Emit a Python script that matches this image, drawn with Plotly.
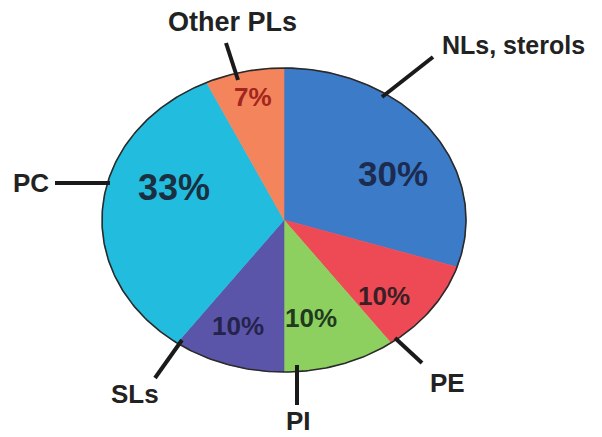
import numpy as np
import plotly.graph_objects as go

# ---- data ----
categories = ["NLs, sterols", "PE", "PI", "SLs", "PC", "Other PLs"]
values = [30, 10, 10, 10, 33, 7]
pct_labels = ["30%", "10%", "10%", "10%", "33%", "7%"]

# ---- styling / layout ----
W, H = 602, 437
CX, CY, RX, RY = 284, 220, 182, 152
slice_colors = ["#3c7bc8", "#ee4a56", "#8dd05f", "#5b55aa", "#22bcdf", "#f4845c"]
pct_colors = ["#1c2c50", "#3a1f25", "#1f3a1f", "#25234a", "#1a2f40", "#a0261e"]
pct_sizes = [35, 26, 26, 26, 36, 26]
pct_dtheta = [-8.7, -6, -5, -2, -14, -0.7]
pct_r = [0.674, 0.743, 0.665, 0.74, 0.64, 0.827]
label_sizes = [25, 26, 26, 26, 26, 27]
# leader lines: (start x, start y, end x, end y), label anchor (x, y, xanchor)
leaders = [
    (382, 97, 433, 57, 440, 45, "left"),
    (395, 338, 422, 363, 447, 383, "center"),
    (297, 365, 297, 405, 298, 421, "center"),
    (182, 340, 155, 378, 135, 394, "center"),
    (110, 183, 55, 183, 51, 183, "right"),
    (238, 80, 226, 43, 232, 22, "center"),
]
FONT = "Liberation Sans, Arial, sans-serif"


def ell(theta_deg, r=1.0):
    t = np.radians(theta_deg)
    return CX + r * RX * np.cos(t), CY - r * RY * np.sin(t)


fig = go.Figure()
total = sum(values)
cum = 0.0
annotations = []
for i, (cat, v) in enumerate(zip(categories, values)):
    f0, f1 = cum / total, (cum + v) / total
    cum += v
    th = np.linspace(90 - 360 * f0, 90 - 360 * f1, 120)
    ex, ey = ell(th)
    xs = np.concatenate([[CX], ex, [CX]])
    ys = np.concatenate([[CY], ey, [CY]])
    fig.add_trace(go.Scatter(x=xs, y=ys, mode="lines", fill="toself",
                             fillcolor=slice_colors[i], line=dict(width=0.6, color=slice_colors[i]),
                             hoverinfo="text", text=cat, showlegend=False))
    mid = 90 - 360 * (f0 + f1) / 2 + pct_dtheta[i]
    px, py = ell(mid, pct_r[i])
    annotations.append(dict(x=px, y=py, text=pct_labels[i], showarrow=False,
                            font=dict(family=FONT, size=pct_sizes[i], color=pct_colors[i], weight="bold")))

# outline
th = np.linspace(0, 360, 400)
ox, oy = ell(th)
fig.add_trace(go.Scatter(x=ox, y=oy, mode="lines", line=dict(color="#2a2a2a", width=1.6),
                         hoverinfo="skip", showlegend=False))

shapes = []
for i, cat in enumerate(categories):
    x0, y0, x1, y1, tx, ty, xa = leaders[i]
    shapes.append(dict(type="line", x0=x0, y0=y0, x1=x1, y1=y1, xref="x", yref="y",
                       line=dict(color="#1a1a1a", width=4)))
    annotations.append(dict(x=tx, y=ty, text=cat, showarrow=False, xanchor=xa,
                            font=dict(family=FONT, size=label_sizes[i], color="#222222", weight="bold")))

fig.update_layout(
    width=W, height=H, margin=dict(l=0, r=0, t=0, b=0),
    paper_bgcolor="white", plot_bgcolor="white",
    xaxis=dict(range=[0, W], visible=False, fixedrange=True),
    yaxis=dict(range=[H, 0], visible=False, fixedrange=True),
    shapes=shapes, annotations=annotations, showlegend=False,
)
fig.write_html("out.html", config={"displayModeBar": False},
               post_script="document.body.style.margin='0px';document.body.style.overflow='hidden';")
